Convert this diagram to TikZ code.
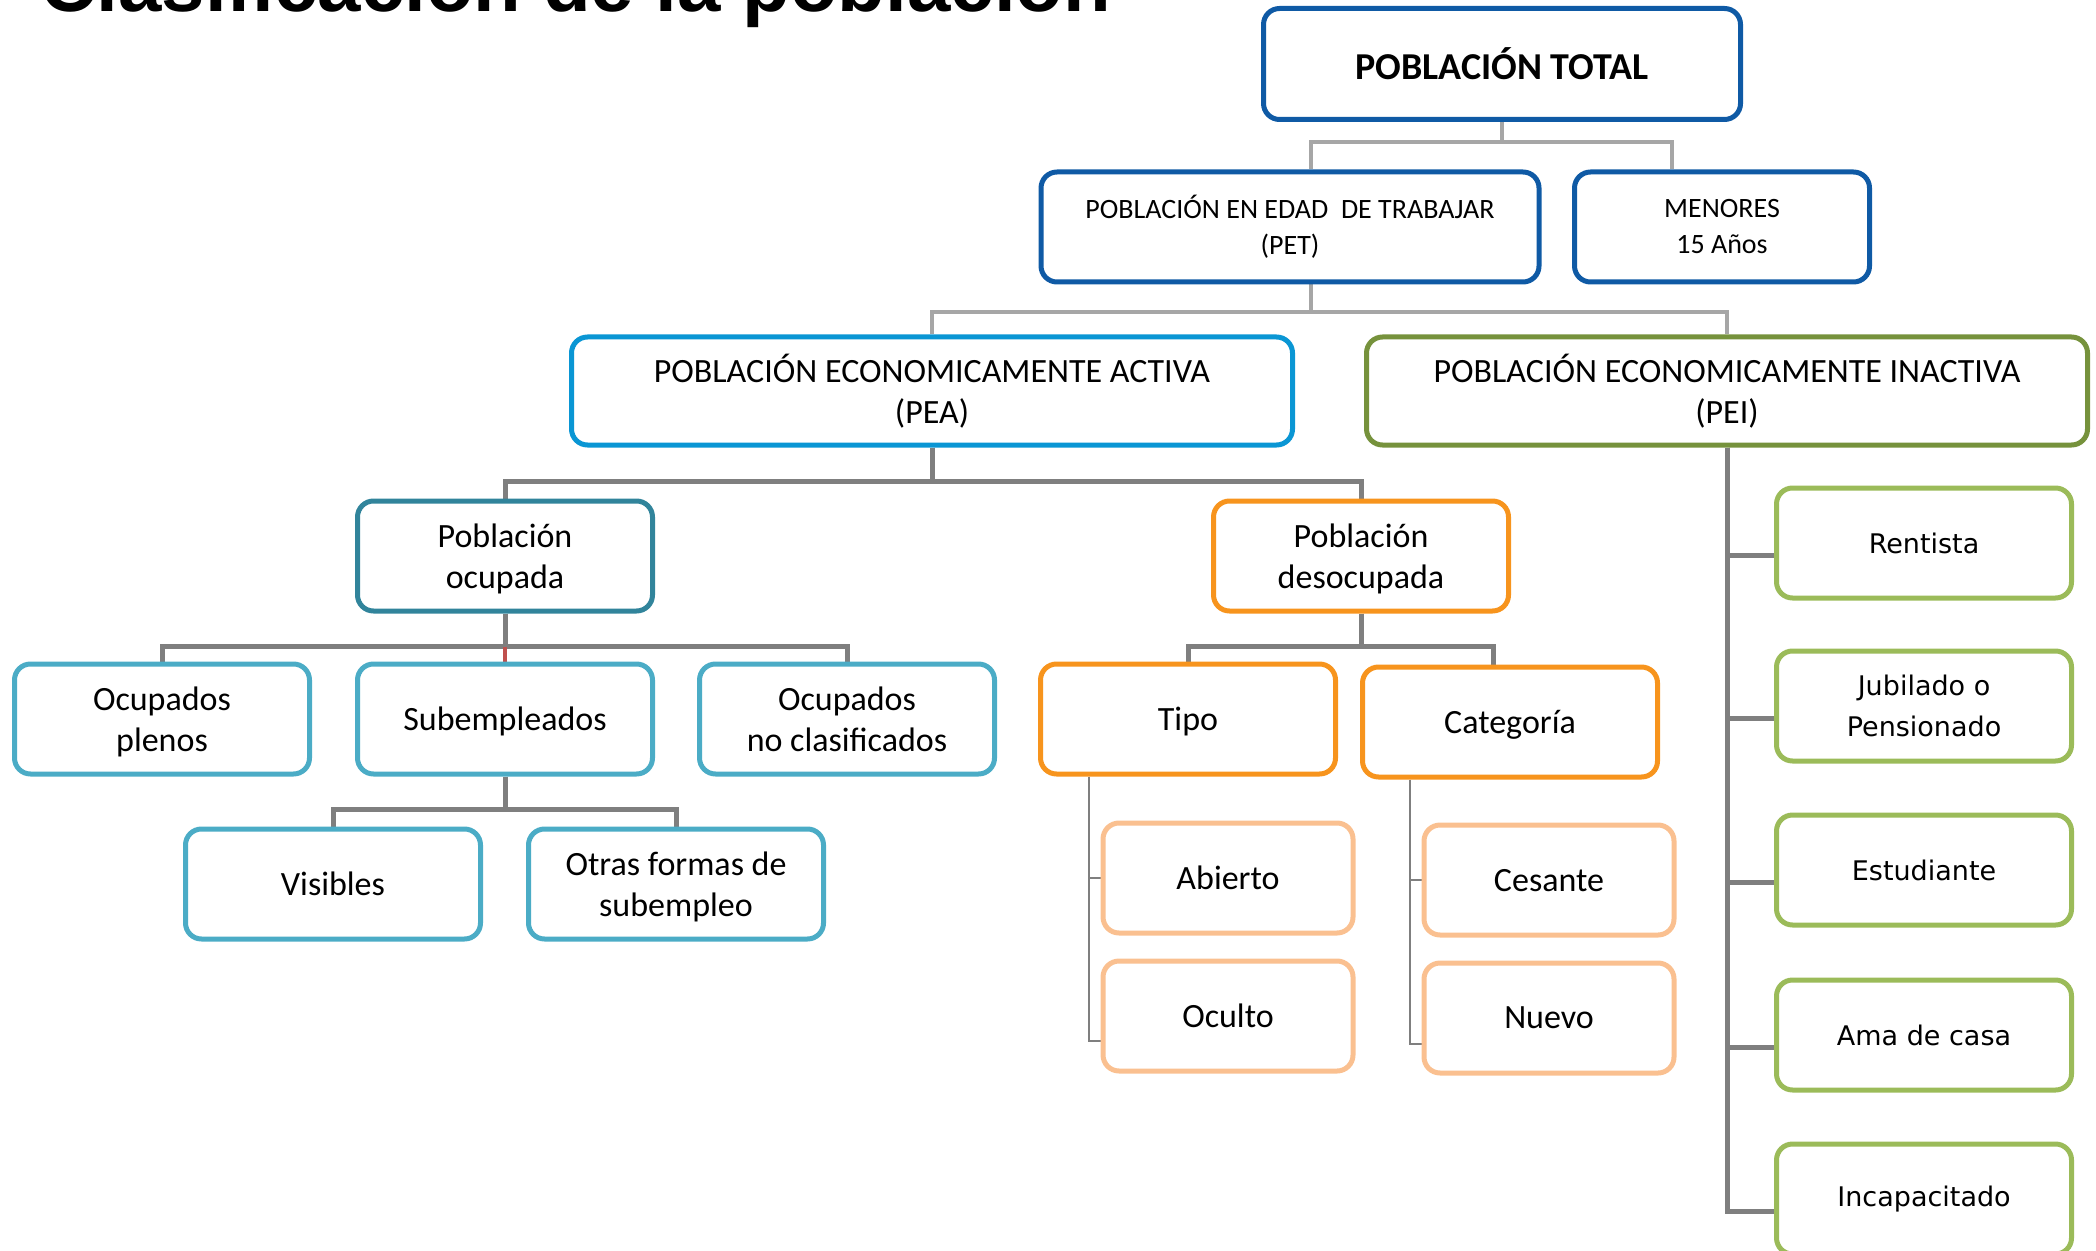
\documentclass[tikz,border=0pt]{standalone}
\usepackage{fontspec}
\setmainfont{Carlito}
\newfontfamily\titlefont{Liberation Sans}
\newfontfamily\wideface{DejaVu Sans}
\usetikzlibrary{calc, backgrounds}
\definecolor{TotalBlue}{HTML}{0F5AA5}
\definecolor{PeaBlue}{HTML}{0A96D4}
\definecolor{PeiGreen}{HTML}{76923C}
\definecolor{OcuTeal}{HTML}{31849B}
\definecolor{SubTeal}{HTML}{4BACC6}
\definecolor{DesOrange}{HTML}{F7941D}
\definecolor{LeafOrange}{HTML}{FAC090}
\definecolor{LeafGreen}{HTML}{9BBB59}
\definecolor{LineLight}{HTML}{A6A6A6}
\definecolor{LineDark}{HTML}{7F7F7F}
\definecolor{LineRed}{HTML}{C0504D}

\begin{document}
\begin{tikzpicture}[x=0.5pt, y=-0.5pt,
  box/.style={draw, line width=2.5pt, rounded corners=8pt, fill=white,
              align=center, minimum width=147.5pt, minimum height=55pt,
              inner sep=2pt, text depth=0pt, font=\fontsize{17}{20.5}\selectfont},
  totalbox/.style={box, draw=TotalBlue, minimum width=238.5pt, minimum height=55.5pt,
                   text depth={}, font=\fontsize{19}{22}\selectfont\bfseries},
  petbox/.style={box, draw=TotalBlue, text depth={}, font=\fontsize{14}{18}\selectfont},
  headbox/.style={box, minimum width=360.5pt, minimum height=54pt, text depth={}},
  leafbox/.style={box, draw=LeafOrange, minimum width=125pt},
  inabox/.style={box, draw=LeafGreen, text depth={},
                 font=\wideface\fontsize{13.5}{20.5}\selectfont},
  lightline/.style={draw=LineLight, line width=2pt},
  darkline/.style={draw=LineDark, line width=2.5pt},
  thinline/.style={draw=LineDark, line width=1pt},
  redline/.style={draw=LineRed, line width=2pt}]

\useasboundingbox (0,0) rectangle (2096,1251);

\node[font=\titlefont\bfseries\fontsize{39}{40}\selectfont, anchor=base west,
      inner sep=0pt] (title) at (40,12) {Clasificación de la población};

% upper levels
\node[totalbox] (tot) at (1502,64) {POBLACIÓN TOTAL};
\node[petbox, minimum width=249pt] (pet) at (1290,227) {POBLACIÓN EN EDAD\ \ DE TRABAJAR\\(PET)};
\node[petbox] (men) at (1722,227) {MENORES\\15 Años};
\node[headbox, draw=PeaBlue] (pea) at (932,391) {POBLACIÓN ECONOMICAMENTE ACTIVA\\(PEA)};
\node[headbox, draw=PeiGreen] (pei) at (1727,391) {POBLACIÓN ECONOMICAMENTE INACTIVA\\(PEI)};

% PEA branch
\node[box, draw=OcuTeal] (ocu) at (505,556) {Población\\ocupada};
\node[box, draw=DesOrange] (des) at (1361,556) {Población\\desocupada};
\node[box, draw=SubTeal] (ple) at (162,719) {Ocupados\\plenos};
\node[box, draw=SubTeal] (sub) at (505,719) {Subempleados};
\node[box, draw=SubTeal] (ncl) at (847,719) {Ocupados\\no clasificados};
\node[box, draw=SubTeal] (vis) at (333,884) {Visibles};
\node[box, draw=SubTeal] (otr) at (676,884) {Otras formas de\\subempleo};
\node[box, draw=DesOrange] (tip) at (1188,719) {Tipo};
\node[box, draw=DesOrange] (cat) at (1510,722) {Categoría};
\node[leafbox] (abi) at (1228,878) {Abierto};
\node[leafbox] (ocl) at (1228,1016) {Oculto};
\node[leafbox] (ces) at (1549,880) {Cesante};
\node[leafbox] (nue) at (1549,1018) {Nuevo};

% PEI branch
\foreach \name/\y/\lab in {ren/543/Rentista, jub/706/{Jubilado o\\Pensionado},
                           est/870/Estudiante, ama/1035/Ama de casa, inc/1199/Incapacitado}{
  \node[inabox] (\name) at (1924,\y) {\lab};
}

\begin{scope}[on background layer]
  \draw[lightline] (tot.south) -- ++(0,20) -| ($(pet.north)+(21,0)$);
  \draw[lightline] (tot.south) -- ++(0,20) -| ($(men.north)+(-50,0)$);
  \draw[lightline] ($(pet.south)+(21,0)$) -- ++(0,28) -| (pea.north);
  \draw[lightline] ($(pet.south)+(21,0)$) -- ++(0,28) -| (pei.north);

  \draw[darkline] (pea.south) -- ++(0,34) -| (ocu.north);
  \draw[darkline] (pea.south) -- ++(0,34) -| (des.north);

  \draw[darkline] (ocu.south) -- ++(0,33) -| (ple.north);
  \draw[darkline] (ocu.south) -- ++(0,33) -| (ncl.north);
  \draw[redline] (ocu.south) ++(0,33) -- (sub.north);

  \draw[darkline] (sub.south) -- ++(0,33) -| (vis.north);
  \draw[darkline] (sub.south) -- ++(0,33) -| (otr.north);

  \draw[darkline] (des.south) -- ++(0,33) -| (tip.north);
  \draw[darkline] (des.south) -- ++(0,33) -| ($(cat.north)+(-17,0)$);

  \draw[thinline] ($(tip.south)+(-99,0)$) |- (abi.west);
  \draw[thinline] ($(tip.south)+(-99,0)$) |- ($(ocl.west)+(0,25)$);
  \draw[thinline] ($(cat.south)+(-100,0)$) |- (ces.west);
  \draw[thinline] ($(cat.south)+(-100,0)$) |- ($(nue.west)+(0,26)$);

  \foreach \name in {ren, jub, est, ama, inc}
    \draw[darkline] (pei.south) |- ($(\name.west)+(0,12)$);
\end{scope}

\end{tikzpicture}
\end{document}
